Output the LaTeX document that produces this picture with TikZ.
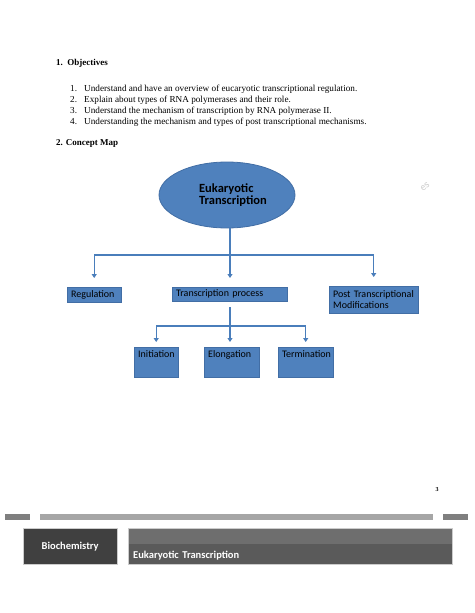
\documentclass[tikz,border=0pt]{standalone}
\usepackage{fontspec}
\setmainfont{Liberation Serif}
\newfontfamily\mapfont{Carlito}
\usetikzlibrary{arrows.meta,positioning,shapes.geometric}
\definecolor{mapblue}{RGB}{79,129,189}
\definecolor{mapedge}{RGB}{66,110,165}
\definecolor{linkblue}{RGB}{74,126,187}
\definecolor{footdark}{RGB}{64,64,64}
\definecolor{footmid}{RGB}{90,90,90}
\definecolor{footlight}{RGB}{110,110,110}
\definecolor{barlight}{RGB}{166,166,166}
\definecolor{bardark}{RGB}{127,127,127}
\tikzset{
  hdr/.style={anchor=base west, inner sep=0pt, font=\fontsize{9}{10}\selectfont\bfseries},
  item/.style={anchor=base west, inner sep=0pt, font=\fontsize{9.2}{11}\selectfont},
  root/.style={draw=mapedge, fill=mapblue, ellipse, line width=0.8pt, align=left,
    minimum width=136pt, minimum height=66pt, inner sep=0pt,
    font=\mapfont\fontsize{12.5}{11.5}\selectfont\bfseries},
  topic/.style={draw=mapedge, fill=mapblue, anchor=north west, align=left,
    inner xsep=4pt, inner ysep=1pt, font=\mapfont\fontsize{10}{11}\selectfont},
  step3/.style={topic, text height=7pt, text depth=17pt, inner ysep=3pt},
  link/.style={draw=linkblue, line width=1.1pt},
  arr/.style={link, -{Triangle[length=4pt,width=5pt]}},
  foot/.style={text=white, inner sep=0pt, font=\mapfont\fontsize{10.5}{12}\selectfont\bfseries},
}
\newcommand{\objitem}[1]{\makebox[14pt][l]{#1}}
\begin{document}
\begin{tikzpicture}[x=1pt, y=-1pt]
  \useasboundingbox[fill=white] (0,0) rectangle (474,613);
  % objectives
  \node[hdr] (objhdr) at (56,65) {1.\ \ Objectives};
  \node[item] (obj1) at (70,91)  {\objitem{1.}Understand and have an overview of eucaryotic transcriptional regulation.};
  \node[item] (obj2) at (70,102) {\objitem{2.}Explain about types of RNA polymerases and their role.};
  \node[item] (obj3) at (70,113) {\objitem{3.}Understand the mechanism of transcription by RNA polymerase II.};
  \node[item] (obj4) at (70,124) {\objitem{4.}Understanding the mechanism and types of post transcriptional mechanisms.};
  \node[hdr] (maphdr) at (56,145) {2. Concept Map};
  \node[rotate=35, text=black!20, inner sep=0pt, font=\sffamily\fontsize{11}{11}\selectfont] (wm) at (425,187) {es};
  % concept map
  \node[root] (euk) at (227,195) {\hspace*{12pt}Eukaryotic\\\hspace*{12pt}Transcription};
  \node[topic, text width=46pt, minimum height=15pt] (reg) at (67,287) {Regulation};
  \node[topic, text width=107pt, minimum height=14pt] (proc) at (172,287) {Transcription process};
  \node[topic, text width=81pt, minimum height=27pt] (post) at (329,286) {Post Transcriptional\\Modifications};
  \node[step3, text width=36pt] (init) at (134,347) {Initiation};
  \node[step3, text width=47pt] (elong) at (204,347) {Elongation};
  \node[step3, text width=47pt] (term) at (278,347) {Termination};
  \coordinate (hub) at (230,255);
  \coordinate (hubb) at (230,326);
  \draw[link] (euk.south -| hub) -- (hub);
  \draw[link] (reg.north |- hub) -- (post.north |- hub);
  \draw[arr, shorten >=9pt] (reg.north |- hub) -- (reg.north);
  \draw[arr, shorten >=9pt] (hub) -- (hub |- proc.north);
  \draw[arr, shorten >=9pt] (post.north |- hub) -- (post.north);
  \draw[link, shorten <=6pt] (proc.south -| hubb) -- (hubb);
  \draw[link] (init.north |- hubb) -- (term.north |- hubb);
  \draw[arr, shorten >=5pt] (init.north |- hubb) -- (init.north);
  \draw[arr, shorten >=5pt] (hubb) -- (hubb |- elong.north);
  \draw[arr, shorten >=5pt] (term.north |- hubb) -- (term.north);
  % footer
  \node[anchor=base, inner sep=0pt, font=\fontsize{6}{6}\selectfont\bfseries] (pgno) at (437,491) {3};
  \fill[bardark] (5,514) rectangle (30,520);
  \fill[barlight] (40,514) rectangle (433,520);
  \fill[bardark] (443,514) rectangle (468,520);
  \node[foot, draw=black!20, fill=footdark, anchor=north west, minimum width=94pt, minimum height=36pt] (subj) at (23,528) {Biochemistry};
  \node[foot, draw=black!20, fill=footmid, anchor=north west, align=left, text width=314pt,
    inner xsep=5pt, inner ysep=3pt, text height=27pt, text depth=3pt,
    path picture={\fill[footlight] (path picture bounding box.north west) rectangle ([yshift=-16pt]path picture bounding box.north east);}]
    (title) at (128,528) {Eukaryotic Transcription};
\end{tikzpicture}
\end{document}
